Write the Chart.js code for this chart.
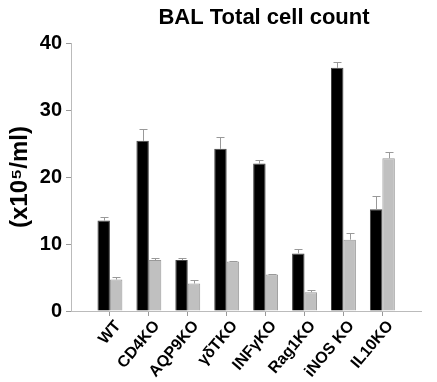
<!DOCTYPE html>
<html>
<head>
  <meta charset="utf-8">
  <title>BAL Total cell count</title>
  <style>
    body { margin: 0; background: #fff; }
  </style>
</head>
<body>
  <script src="https://cdn.jsdelivr.net/npm/chart.js"></script>
  <canvas id="myChart" width="437" height="382"></canvas>

  <script>
    // categories (blank slots at both ends keep the spacing of the original axis)
    var strains = ['', 'WT', 'CD4KO', 'AQP9KO', 'γδTKO', 'INFγKO', 'Rag1KO', 'iNOS KO', 'IL10KO', ''];
    // series values, x10^5 cells/ml
    var blackVals = [null, 13.5, 25.4, 7.6, 24.2, 22.0, 8.6, 36.3, 15.2, null];
    var grayVals  = [null, 4.7, 7.6, 4.1, 7.4, 5.45, 2.8, 10.65, 22.8, null];
    // upper error
    var blackErr = [0, 0.5, 1.7, 0.3, 1.8, 0.5, 0.7, 0.8, 1.95, 0];
    var grayErr  = [0, 0.35, 0.3, 0.6, 0.1, 0.1, 0.3, 0.95, 0.9, 0];
    var yTicks = [0, 10, 20, 30, 40];

    var errors = [blackErr, grayErr];

    // draws the upward error bars with a small cap
    const errorBars = {
      id: 'errorBars',
      afterDatasetsDraw(chart) {
        const ctx = chart.ctx;
        const y = chart.scales.y;
        ctx.save();
        ctx.strokeStyle = '#999';
        ctx.lineWidth = 1;
        chart.data.datasets.forEach(function (ds, di) {
          const meta = chart.getDatasetMeta(di);
          meta.data.forEach(function (bar, i) {
            const v = ds.data[i];
            if (v == null) return;
            const top = y.getPixelForValue(v + errors[di][i]);
            const x = Math.round(bar.x) + 0.5;
            ctx.beginPath();
            ctx.moveTo(x, bar.y);
            ctx.lineTo(x, Math.round(top) + 0.5);
            ctx.moveTo(x - 4, Math.round(top) + 0.5);
            ctx.lineTo(x + 4, Math.round(top) + 0.5);
            ctx.stroke();
          });
        });
        ctx.restore();
      }
    };

    // title sits over the plot, a bit right of the canvas centre
    const titlePlugin = {
      id: 'titleText',
      afterDraw(chart) {
        const ctx = chart.ctx;
        ctx.save();
        ctx.font = 'bold 22px Arial, "Liberation Sans", sans-serif';
        ctx.fillStyle = '#000';
        ctx.textAlign = 'center';
        ctx.textBaseline = 'middle';
        ctx.fillText('BAL Total cell count', 264, 18);
        ctx.restore();
      }
    };

    const ctx = document.getElementById('myChart').getContext('2d');
    const myChart = new Chart(ctx, {
      type: 'bar',
      data: {
        labels: strains,
        datasets: [{
          data: blackVals,
          backgroundColor: '#000',
          borderColor: '#444',
          borderWidth: 1,
          categoryPercentage: 0.64,
          barPercentage: 1.0
        }, {
          data: grayVals,
          backgroundColor: '#c0c0c0',
          borderColor: '#999',
          borderWidth: 1,
          categoryPercentage: 0.64,
          barPercentage: 1.0
        }]
      },
      options: {
        responsive: false,
        devicePixelRatio: 1,
        animation: false,
        layout: { padding: { top: 43, right: 1, left: 0, bottom: 0 } },
        plugins: {
          legend: { display: false },
          tooltip: { enabled: false },
          title: { display: false }
        },
        scales: {
          x: {
            offset: false,
            border: { color: '#bbb', width: 1 },
            grid: {
              offset: false,
              drawOnChartArea: false,
              tickLength: 5,
              color: function (c) {
                return (c.index === 0 || c.index === strains.length - 1) ? 'rgba(0,0,0,0)' : '#999';
              }
            },
            ticks: {
              autoSkip: false,
              minRotation: 50,
              maxRotation: 50,
              padding: 1,
              labelOffset: 8,
              color: '#000',
              font: { family: 'Arial, "Liberation Sans", sans-serif', size: 16, weight: 'bold' }
            },
            afterFit: function (scale) { scale.height = 71; }
          },
          y: {
            min: 0,
            max: 40,
            afterBuildTicks: function (scale) {
              scale.ticks = yTicks.map(function (v) { return { value: v }; });
            },
            border: { color: '#bbb', width: 1 },
            grid: { drawOnChartArea: false, tickLength: 5, color: '#999' },
            ticks: {
              padding: 4,
              color: '#000',
              font: { family: 'Arial, "Liberation Sans", sans-serif', size: 20, weight: 'bold' }
            },
            title: {
              display: true,
              text: '(x10⁵/ml)',
              color: '#000',
              padding: { top: 6, bottom: 0 },
              font: { family: 'Arial, "Liberation Sans", sans-serif', size: 24, weight: 'bold' }
            },
            afterFit: function (scale) { scale.width = 71; }
          }
        }
      },
      plugins: [errorBars, titlePlugin]
    });
  </script>
</body>
</html>
